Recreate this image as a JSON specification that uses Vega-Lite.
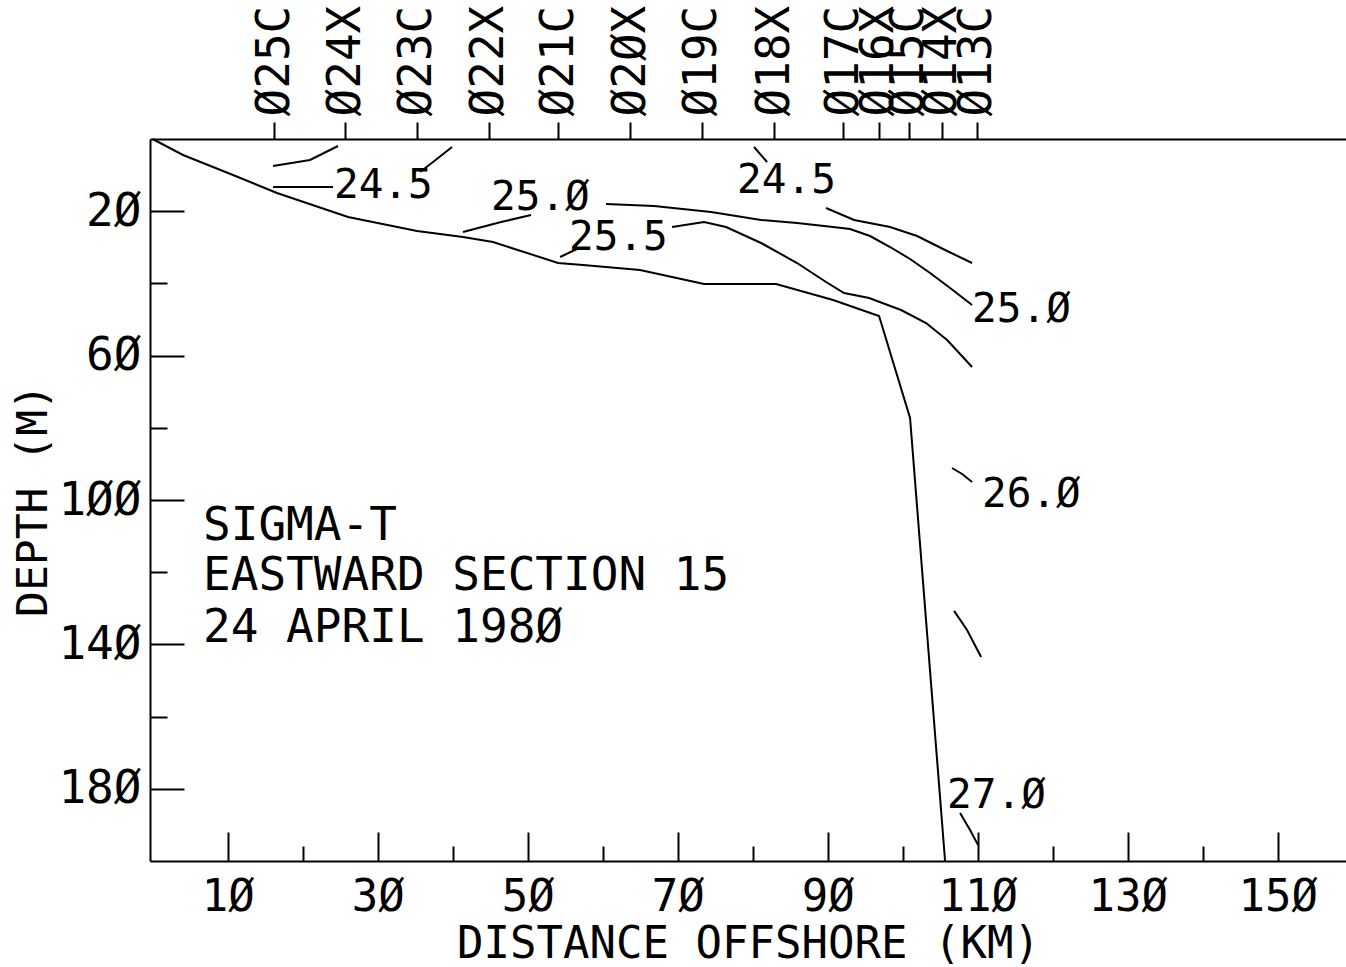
{
  "$schema": "https://vega.github.io/schema/vega-lite/v6.json",
  "autosize": {"type": "none"},
  "padding": {"left": 150, "top": 139, "right": 0, "bottom": 106},
  "width": 1196,
  "height": 722,
  "background": "white",
  "config": {
    "view": {"stroke": null},
    "font": "DejaVu Sans Mono",
    "axis": {
      "labelFont": "DejaVu Sans Mono",
      "titleFont": "DejaVu Sans Mono",
      "labelColor": "black",
      "titleColor": "black",
      "titleFontWeight": "normal",
      "domainColor": "black",
      "domainWidth": 2,
      "tickColor": "black",
      "tickWidth": 2,
      "grid": false,
      "labelOverlap": false,
      "labelFlush": false,
      "labelBound": false
    }
  },
  "datasets": {
    "lines": [
      {"seg": "bottom", "o": 1, "x": 0, "d": 0},
      {"seg": "bottom", "o": 2, "x": 4.05, "d": 4.43},
      {"seg": "bottom", "o": 3, "x": 10.72, "d": 9.97},
      {"seg": "bottom", "o": 4, "x": 16.58, "d": 14.96},
      {"seg": "bottom", "o": 5, "x": 26.05, "d": 21.61},
      {"seg": "bottom", "o": 6, "x": 35.25, "d": 25.48},
      {"seg": "bottom", "o": 7, "x": 41.38, "d": 27.15},
      {"seg": "bottom", "o": 8, "x": 45.38, "d": 28.53},
      {"seg": "bottom", "o": 9, "x": 54.05, "d": 34.35},
      {"seg": "bottom", "o": 10, "x": 57.38, "d": 34.9},
      {"seg": "bottom", "o": 11, "x": 64.98, "d": 36.29},
      {"seg": "bottom", "o": 12, "x": 73.52, "d": 40.17},
      {"seg": "bottom", "o": 13, "x": 83.12, "d": 40.17},
      {"seg": "bottom", "o": 14, "x": 90.72, "d": 44.6},
      {"seg": "bottom", "o": 15, "x": 96.85, "d": 49.03},
      {"seg": "bottom", "o": 16, "x": 100.98, "d": 77.29},
      {"seg": "bottom", "o": 17, "x": 105.65, "d": 200},

      {"seg": "c240", "o": 1, "x": 16.05, "d": 7.48},
      {"seg": "c240", "o": 2, "x": 20.98, "d": 5.82},
      {"seg": "c240", "o": 3, "x": 24.72, "d": 1.94},

      {"seg": "c245a", "o": 1, "x": 16.05, "d": 13.3},
      {"seg": "c245a", "o": 2, "x": 24.05, "d": 13.3},
      {"seg": "c245b", "o": 1, "x": 35.65, "d": 9.14},
      {"seg": "c245b", "o": 2, "x": 37.38, "d": 6.37},
      {"seg": "c245b", "o": 3, "x": 39.92, "d": 2.22},

      {"seg": "c245c", "o": 1, "x": 80.18, "d": 2.22},
      {"seg": "c245c", "o": 2, "x": 81.92, "d": 6.37},
      {"seg": "c245d", "o": 1, "x": 89.78, "d": 19.11},
      {"seg": "c245d", "o": 2, "x": 93.52, "d": 22.44},
      {"seg": "c245d", "o": 3, "x": 98.32, "d": 24.38},
      {"seg": "c245d", "o": 4, "x": 101.92, "d": 26.87},
      {"seg": "c245d", "o": 5, "x": 105.92, "d": 31.02},
      {"seg": "c245d", "o": 6, "x": 109.25, "d": 34.35},

      {"seg": "c250a", "o": 1, "x": 41.38, "d": 25.76},
      {"seg": "c250a", "o": 2, "x": 46.45, "d": 22.99},
      {"seg": "c250a", "o": 3, "x": 50.45, "d": 21.05},
      {"seg": "c250b", "o": 1, "x": 60.45, "d": 18.01},
      {"seg": "c250b", "o": 2, "x": 66.85, "d": 18.56},
      {"seg": "c250b", "o": 3, "x": 74.45, "d": 20.22},
      {"seg": "c250b", "o": 4, "x": 81.12, "d": 22.44},
      {"seg": "c250b", "o": 5, "x": 85.92, "d": 23.27},
      {"seg": "c250b", "o": 6, "x": 90.72, "d": 24.38},
      {"seg": "c250b", "o": 7, "x": 92.98, "d": 24.93},
      {"seg": "c250b", "o": 8, "x": 95.65, "d": 26.87},
      {"seg": "c250b", "o": 9, "x": 98.32, "d": 29.92},
      {"seg": "c250b", "o": 10, "x": 100.98, "d": 33.24},
      {"seg": "c250b", "o": 11, "x": 103.65, "d": 37.12},
      {"seg": "c250b", "o": 12, "x": 106.32, "d": 41.27},
      {"seg": "c250b", "o": 13, "x": 109.25, "d": 45.98},

      {"seg": "c255a", "o": 1, "x": 54.32, "d": 32.69},
      {"seg": "c255a", "o": 2, "x": 56.85, "d": 30.19},
      {"seg": "c255b", "o": 1, "x": 69.25, "d": 24.38},
      {"seg": "c255b", "o": 2, "x": 73.52, "d": 22.99},
      {"seg": "c255b", "o": 3, "x": 76.45, "d": 24.38},
      {"seg": "c255b", "o": 4, "x": 81.12, "d": 28.81},
      {"seg": "c255b", "o": 5, "x": 85.92, "d": 34.35},
      {"seg": "c255b", "o": 6, "x": 89.78, "d": 39.61},
      {"seg": "c255b", "o": 7, "x": 92.18, "d": 42.66},
      {"seg": "c255b", "o": 8, "x": 95.52, "d": 44.04},
      {"seg": "c255b", "o": 9, "x": 99.78, "d": 47.37},
      {"seg": "c255b", "o": 10, "x": 103.12, "d": 50.97},
      {"seg": "c255b", "o": 11, "x": 105.92, "d": 55.68},
      {"seg": "c255b", "o": 12, "x": 109.25, "d": 63.16},

      {"seg": "c260", "o": 1, "x": 106.58, "d": 91.14},
      {"seg": "c260", "o": 2, "x": 107.92, "d": 92.8},
      {"seg": "c260", "o": 3, "x": 109.25, "d": 95.0},

      {"seg": "c265", "o": 1, "x": 106.85, "d": 130.7},
      {"seg": "c265", "o": 2, "x": 108.58, "d": 136.0},
      {"seg": "c265", "o": 3, "x": 110.45, "d": 143.5},

      {"seg": "c270", "o": 1, "x": 107.65, "d": 186.7},
      {"seg": "c270", "o": 2, "x": 108.98, "d": 191.4},
      {"seg": "c270", "o": 3, "x": 110.05, "d": 195.6}
    ],
    "labels": [
      {"x": 24.18, "d": 16.34, "t": "24.5"},
      {"x": 45.12, "d": 19.67, "t": "25.Ø"},
      {"x": 55.52, "d": 30.75, "t": "25.5"},
      {"x": 77.92, "d": 14.96, "t": "24.5"},
      {"x": 109.25, "d": 50.69, "t": "25.Ø"},
      {"x": 110.58, "d": 101.94, "t": "26.Ø"},
      {"x": 105.92, "d": 185.3, "t": "27.Ø"}
    ],
    "notes": [
      {"x": 6.72, "d": 111.1, "t": "SIGMA-T"},
      {"x": 6.72, "d": 124.9, "t": "EASTWARD SECTION 15"},
      {"x": 6.72, "d": 139.3, "t": "24 APRIL 198Ø"}
    ]
  },
  "resolve": {"axis": {"x": "independent"}},
  "layer": [
    {
      "data": {"name": "lines"},
      "mark": {"type": "line", "color": "black", "strokeWidth": 2, "interpolate": "linear"},
      "encoding": {
        "x": {
          "field": "x", "type": "quantitative",
          "scale": {"domain": [-0.35, 159.1], "nice": false, "zero": false},
          "axis": {
            "orient": "bottom",
            "values": [10, 20, 30, 40, 50, 60, 70, 80, 90, 100, 110, 120, 130, 140, 150],
            "tickSize": {"condition": {"test": "datum.value % 20 == 10", "value": -29}, "value": -15},
            "labelExpr": "datum.value % 20 == 10 ? replace(datum.label, regexp('0', 'g'), 'Ø') : ''",
            "labelFontSize": 44,
            "labelPadding": 43,
            "labelBaseline": "top",
            "title": "DISTANCE OFFSHORE (KM)",
            "titleFontSize": 44,
            "titlePadding": -11
          }
        },
        "y": {
          "field": "d", "type": "quantitative",
          "scale": {"domain": [0, 200], "nice": false, "zero": false, "reverse": true},
          "axis": {
            "orient": "left",
            "values": [20, 40, 60, 80, 100, 120, 140, 160, 180],
            "tickSize": {"condition": {"test": "datum.value % 40 == 20", "value": -34}, "value": -17},
            "labelExpr": "datum.value % 40 == 20 ? replace(datum.label, regexp('0', 'g'), 'Ø') : ''",
            "labelFontSize": 46,
            "labelPadding": 43,
            "labelBaseline": "middle",
            "title": "DEPTH (M)",
            "titleFontSize": 43,
            "titlePadding": 2
          }
        },
        "detail": {"field": "seg"},
        "order": {"field": "o"}
      }
    },
    {
      "data": {"name": "labels"},
      "mark": {"type": "text", "align": "left", "baseline": "alphabetic", "fontSize": 41, "font": "DejaVu Sans Mono", "color": "black"},
      "encoding": {
        "x": {
          "field": "x", "type": "quantitative",
          "scale": {"domain": [-0.35, 159.1], "nice": false, "zero": false},
          "axis": {
            "orient": "top",
            "title": null,
            "values": [16.2, 25.7, 35.2, 44.8, 54.1, 63.7, 73.2, 82.9, 92.1, 96.8, 100.8, 105.2, 109.9],
            "labelExpr": "['Ø25C','Ø24X','Ø23C','Ø22X','Ø21C','Ø2ØX','Ø19C','Ø18X','Ø17C','Ø16X','Ø15C','Ø14X','Ø13C'][indexof([16.2, 25.7, 35.2, 44.8, 54.1, 63.7, 73.2, 82.9, 92.1, 96.8, 100.8, 105.2, 109.9], datum.value)]",
            "tickSize": 17,
            "labelAngle": 270,
            "labelAlign": "left",
            "labelBaseline": "middle",
            "labelFontSize": 46,
            "labelPadding": 6
          }
        },
        "y": {
          "field": "d", "type": "quantitative",
          "scale": {"domain": [0, 200], "nice": false, "zero": false, "reverse": true}
        },
        "text": {"field": "t"}
      }
    },
    {
      "data": {"name": "notes"},
      "mark": {"type": "text", "align": "left", "baseline": "alphabetic", "fontSize": 46, "font": "DejaVu Sans Mono", "color": "black"},
      "encoding": {
        "x": {
          "field": "x", "type": "quantitative",
          "scale": {"domain": [-0.35, 159.1], "nice": false, "zero": false},
          "axis": null
        },
        "y": {
          "field": "d", "type": "quantitative",
          "scale": {"domain": [0, 200], "nice": false, "zero": false, "reverse": true}
        },
        "text": {"field": "t"}
      }
    }
  ]
}
